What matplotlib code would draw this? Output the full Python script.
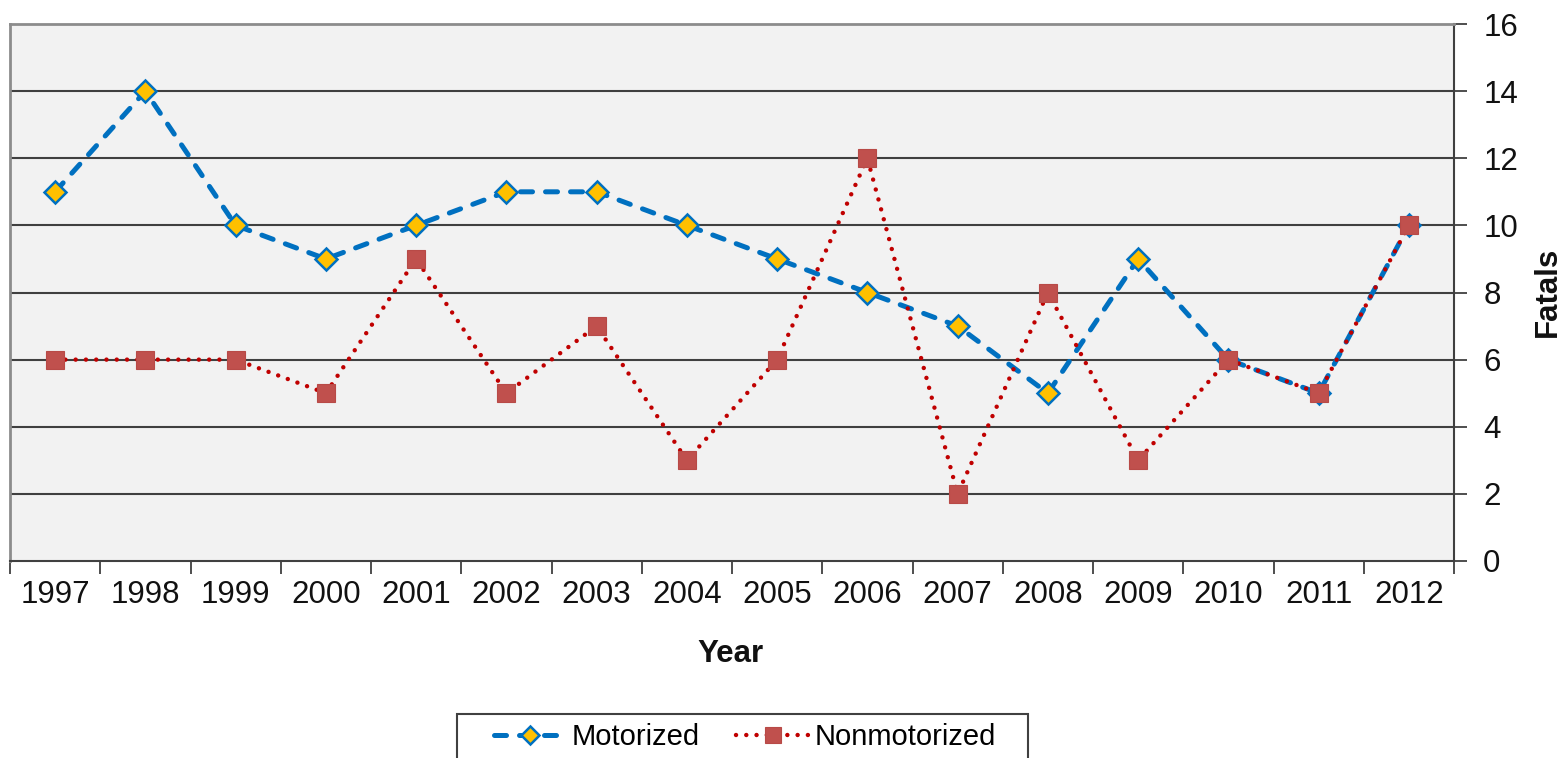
import matplotlib
matplotlib.use("Agg")
import matplotlib.pyplot as plt
from matplotlib.ticker import FixedLocator, NullFormatter, FixedFormatter
from matplotlib.patches import Rectangle

plt.rcParams['font.family'] = ['Liberation Sans', 'DejaVu Sans']

years = ['1997', '1998', '1999', '2000', '2001', '2002', '2003', '2004',
         '2005', '2006', '2007', '2008', '2009', '2010', '2011', '2012']
motorized = [11, 14, 10, 9, 10, 11, 11, 10, 9, 8, 7, 5, 9, 6, 5, 10]
nonmotorized = [6, 6, 6, 5, 9, 5, 7, 3, 6, 12, 2, 8, 3, 6, 5, 10]
y_ticks = [0, 2, 4, 6, 8, 10, 12, 14, 16]

W, H = 1564, 758
fig = plt.figure(figsize=(W / 100, H / 100), dpi=100)
L, R, T, B = 10, 1454, 24, 561
ax = fig.add_axes([L / W, 1 - B / H, (R - L) / W, (B - T) / H])
ax.set_facecolor('#F2F2F2')

x = list(range(len(years)))

ax.plot(x, motorized, color='#0070C0', lw=3.6, linestyle=(0, (2.4, 2.6)),
        dash_capstyle='round', marker='D', markersize=11,
        markerfacecolor='#FFC000', markeredgecolor='#0070C0',
        markeredgewidth=1.8, label='Motorized', zorder=3)
ax.plot(x, nonmotorized, color='#C00000', lw=3.2, linestyle=(0, (0.01, 2.3)),
        dash_capstyle='round', marker='s', markersize=13.5,
        markerfacecolor='#C0504D', markeredgecolor='#B84A47',
        markeredgewidth=0.8, label='Nonmotorized', zorder=4)

ax.set_xlim(-0.5, len(years) - 0.5)
ax.set_ylim(0, 16)

# y axis on the right
ax.yaxis.tick_right()
ax.set_yticks(y_ticks)
ax.set_yticklabels([str(v) for v in y_ticks])
ax.tick_params(axis='y', which='major', direction='out', length=9, width=1.3,
               color='#404040', labelsize=22.5, pad=12, labelcolor='#111111')

# x axis: ticks at category boundaries, labels at centers
ax.xaxis.set_major_locator(FixedLocator([i - 0.5 for i in range(len(years) + 1)]))
ax.xaxis.set_major_formatter(NullFormatter())
ax.xaxis.set_minor_locator(FixedLocator(x))
ax.xaxis.set_minor_formatter(FixedFormatter(years))
ax.tick_params(axis='x', which='major', direction='out', length=9, width=1.3,
               color='#404040')
ax.tick_params(axis='x', which='minor', length=0, labelsize=22.5, pad=14,
               labelcolor='#111111')

# gridlines
for v in y_ticks[1:-1]:
    ax.axhline(v, color='#404040', lw=1.5, zorder=1)

for side in ['left', 'top']:
    ax.spines[side].set_color('#8C8C8C')
    ax.spines[side].set_linewidth(2.0)
for side in ['right', 'bottom']:
    ax.spines[side].set_color('#404040')
    ax.spines[side].set_linewidth(1.5)

fig.text(730 / W, 1 - 654 / H, 'Year', fontsize=22.5, fontweight='bold',
         ha='center', va='center', color='#111111')
fig.text(1548 / W, 1 - 292 / H, 'Fatals', fontsize=22.5, fontweight='bold',
         ha='center', va='center', rotation=90, color='#111111')

# legend frame (extends past bottom edge as in the reference)
frame = Rectangle((457 / W, 1 - 800 / H), (1028 - 457) / W, (800 - 714) / H,
                  transform=fig.transFigure, facecolor='white',
                  edgecolor='#404040', linewidth=1.5, zorder=0)
fig.patches.append(frame)

handles, labels = ax.get_legend_handles_labels()
leg = fig.legend(handles, labels, loc='center left',
                 bbox_to_anchor=(494 / W, 1 - 737 / H),
                 bbox_transform=fig.transFigure, ncol=2, fontsize=21,
                 frameon=False, borderaxespad=0, borderpad=0,
                 handlelength=2.5, handletextpad=0.17, columnspacing=1.25,
                 markerscale=0.85)

fig.savefig('out.png', dpi=100)
